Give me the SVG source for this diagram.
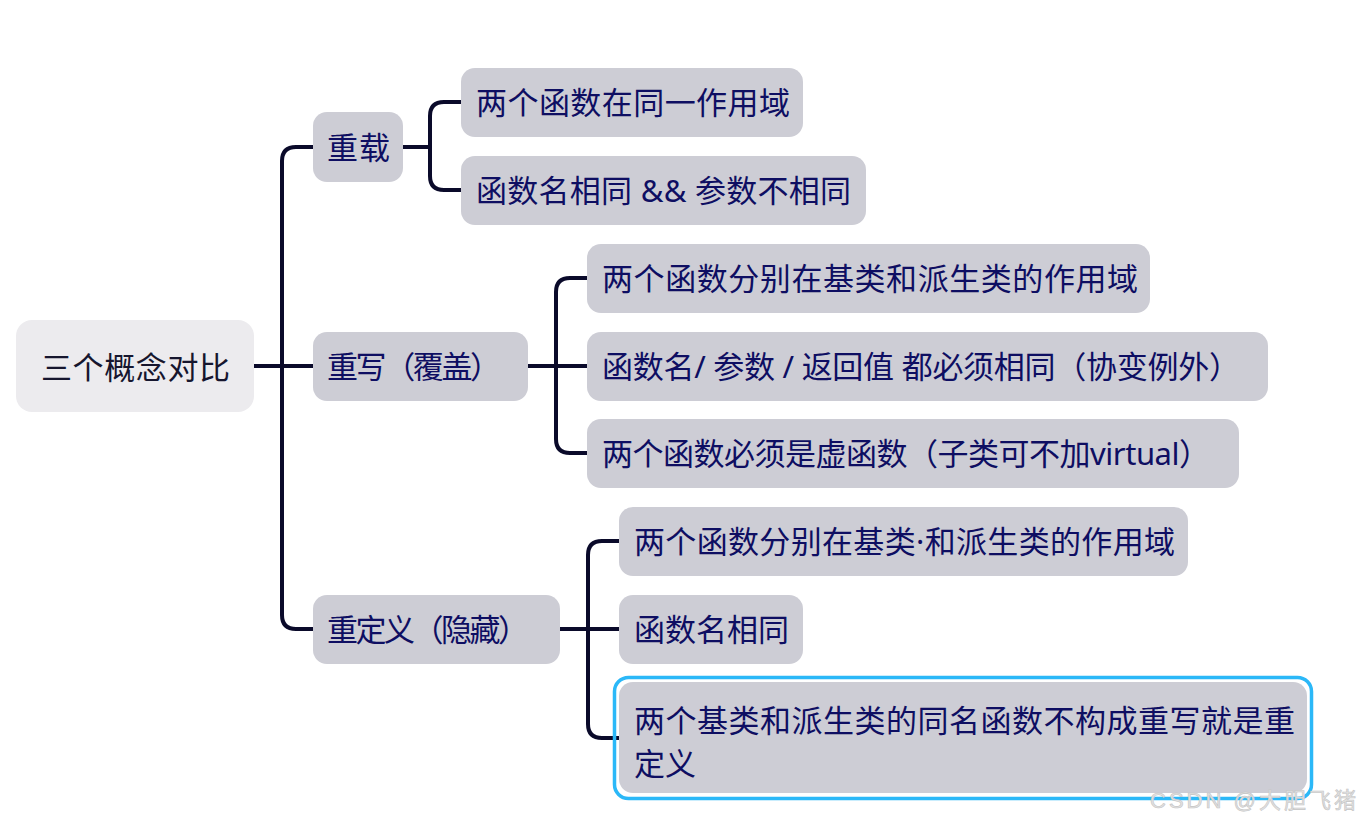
<svg xmlns="http://www.w3.org/2000/svg" width="1360" height="824" viewBox="0 0 1360 824">
<style>
.bg{fill:#ffffff}
.node{fill:#CDCDD5}
.root{fill:#ECEBEE}
.t{font-family:"Noto Sans","Noto Sans CJK SC",sans-serif;font-size:31px;fill:#0E0E62}
.rt{font-family:"Noto Sans","Noto Sans CJK SC",sans-serif;font-size:31px;fill:#16162E}
.c{fill:none;stroke:#0A0A2A;stroke-width:4;stroke-linecap:butt}
.sel{fill:none;stroke:#2BB8F8;stroke-width:3.5}
.wm{font-family:"Liberation Sans","Noto Sans CJK SC",sans-serif;font-size:22px;fill:#E2E2E2;stroke:#C4C4C4;stroke-width:0.6}
</style>
<rect class="bg" x="0" y="0" width="1360" height="824"/>
<g id="connectors">
<path class="c" d="M254 366 H313"/>
<path class="c" d="M313 147 H296 Q282 147 282 161 V615 Q282 629 296 629 H313"/>
<path class="c" d="M403 147 H430"/>
<path class="c" d="M461 102 H444 Q430 102 430 116 V176 Q430 190 444 190 H461"/>
<path class="c" d="M528 366 H587"/>
<path class="c" d="M587 278 H570 Q556 278 556 292 V439 Q556 453 570 453 H587"/>
<path class="c" d="M560 629 H619"/>
<path class="c" d="M619 541 H602 Q588 541 588 555 V724 Q588 738 602 738 H619"/>
</g>
<g id="root">
<rect class="root" x="16" y="320" width="238" height="92" rx="16"/>
<text class="rt" x="41" y="379" textLength="189">三个概念对比</text>
</g>
<g id="n-overload">
<rect class="node" x="313" y="112" width="90" height="70" rx="14"/>
<text class="t" x="327" y="159" textLength="63">重载</text>
</g>
<g id="n-override">
<rect class="node" x="313" y="332" width="215" height="69" rx="14"/>
<text class="t" x="327" y="378" textLength="174">重写（覆盖）</text>
</g>
<g id="n-redefine">
<rect class="node" x="313" y="595" width="247" height="69" rx="14"/>
<text class="t" x="327" y="641" textLength="202">重定义（隐藏）</text>
</g>
<g id="n1a">
<rect class="node" x="461" y="68" width="342" height="69" rx="14"/>
<text class="t" x="476" y="114" textLength="314">两个函数在同一作用域</text>
</g>
<g id="n1b">
<rect class="node" x="461" y="156" width="405" height="69" rx="14"/>
<text class="t" x="476" y="202" textLength="375">函数名相同 &amp;&amp; 参数不相同</text>
</g>
<g id="n2a">
<rect class="node" x="587" y="244" width="563" height="69" rx="14"/>
<text class="t" x="602" y="290" textLength="536">两个函数分别在基类和派生类的作用域</text>
</g>
<g id="n2b">
<rect class="node" x="587" y="332" width="681" height="69" rx="14"/>
<text class="t" x="602" y="378" textLength="638">函数名/ 参数 / 返回值 都必须相同（协变例外）</text>
</g>
<g id="n2c">
<rect class="node" x="587" y="419" width="652" height="69" rx="14"/>
<text class="t" x="602" y="465" textLength="608">两个函数必须是虚函数（子类可不加virtual）</text>
</g>
<g id="n3a">
<rect class="node" x="619" y="507" width="569" height="69" rx="14"/>
<text class="t" x="634" y="553" textLength="541">两个函数分别在基类·和派生类的作用域</text>
</g>
<g id="n3b">
<rect class="node" x="619" y="595" width="184" height="69" rx="14"/>
<text class="t" x="634" y="641" textLength="155">函数名相同</text>
</g>
<g id="n3c">
<rect class="sel" x="614.5" y="677.5" width="697" height="121" rx="14"/>
<rect class="node" x="619" y="682" width="688" height="111" rx="14"/>
<text class="t" x="634" y="732" textLength="661">两个基类和派生类的同名函数不构成重写就是重</text>
<text class="t" x="634" y="775" textLength="62">定义</text>
</g>
<text class="wm" x="1150" y="808" textLength="206">CSDN @大胆飞猪</text>
</svg>
